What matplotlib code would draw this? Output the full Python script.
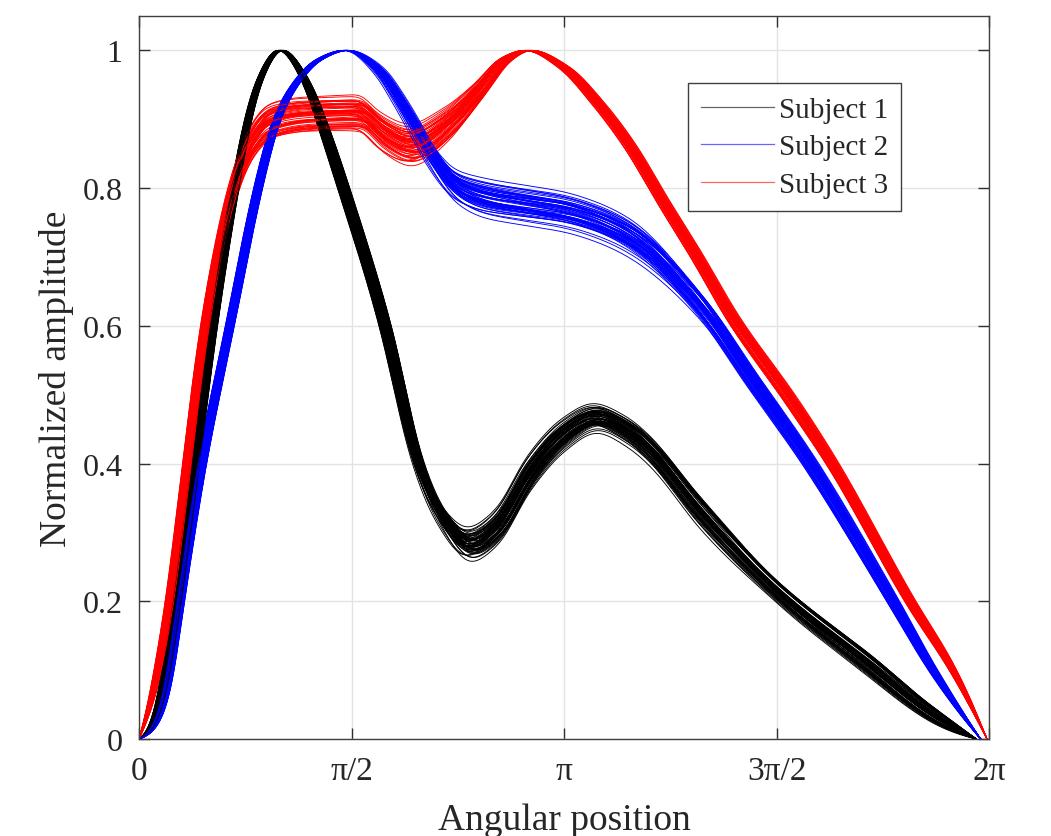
import numpy as np
import matplotlib
matplotlib.use("Agg")
import matplotlib.pyplot as plt

plt.rcParams['font.family'] = ['Liberation Serif', 'DejaVu Serif']

# ---------------- data (angle in units of pi) ----------------
subject_names = ["Subject 1", "Subject 2", "Subject 3"]
subject_colors = ["#000000", "#0000ff", "#ff0000"]

# Subject 1 (black): mean shape, amplitude half-spread, angular half-spread
s1_theta = [0.0, 0.02, 0.042, 0.089, 0.132, 0.174, 0.226, 0.257, 0.28, 0.332, 0.395, 0.426,
            0.48, 0.579, 0.657, 0.708, 0.779, 0.842, 0.92, 1.0, 1.075, 1.15, 1.2, 1.32, 1.5,
            1.713, 1.868, 1.97]
s1_amp = [0.0, 0.008, 0.034, 0.2, 0.4, 0.6, 0.8, 0.9, 0.95, 1.0, 0.95, 0.9,
          0.8, 0.6, 0.4, 0.327, 0.28, 0.305, 0.385, 0.44, 0.465, 0.445, 0.42, 0.33, 0.215,
          0.11, 0.035, 0.0]
s1_amp_spread = [0.0, 0.0, 0.0, 0.0, 0.0, 0.0, 0.0, 0.0, 0.0, 0.0, 0.0, 0.0,
                 0.0, 0.005, 0.012, 0.02, 0.03, 0.03, 0.03, 0.028, 0.025, 0.027, 0.028, 0.03, 0.02,
                 0.02, 0.013, 0.0]
s1_phase_spread = [0.0, 0.006, 0.01, 0.011, 0.011, 0.011, 0.01, 0.009, 0.008, 0.006, 0.01, 0.013,
                   0.015, 0.015, 0.013, 0.012, 0.012, 0.012, 0.012, 0.012, 0.012, 0.012, 0.012, 0.012, 0.012,
                   0.01, 0.008, 0.0]

# Subject 2 (blue)
s2_theta = [0.0, 0.03, 0.061, 0.096, 0.148, 0.214, 0.28, 0.324, 0.367, 0.42, 0.489, 0.567,
            0.606, 0.645, 0.685, 0.75, 0.81, 0.9, 1.0, 1.08, 1.162, 1.32, 1.438, 1.579,
            1.774, 1.868, 1.98]
s2_amp = [0.0, 0.012, 0.058, 0.2, 0.4, 0.6, 0.8, 0.9, 0.95, 0.985, 1.0, 0.97,
          0.935, 0.895, 0.85, 0.80, 0.785, 0.775, 0.765, 0.75, 0.725, 0.63, 0.525, 0.4,
          0.2, 0.1, 0.0]
s2_amp_spread = [0.0, 0.0, 0.0, 0.0, 0.0, 0.0, 0.0, 0.0, 0.0, 0.0, 0.0, 0.01,
                 0.015, 0.02, 0.025, 0.03, 0.035, 0.035, 0.035, 0.035, 0.035, 0.025, 0.02, 0.015,
                 0.01, 0.008, 0.0]
s2_phase_spread = [0.0, 0.007, 0.011, 0.011, 0.011, 0.011, 0.011, 0.01, 0.009, 0.008, 0.006, 0.013,
                   0.014, 0.014, 0.013, 0.01, 0.008, 0.008, 0.008, 0.008, 0.01, 0.013, 0.014, 0.014,
                   0.011, 0.007, 0.0]

# Subject 3 (red)
s3_theta = [0.0, 0.015, 0.03, 0.073, 0.113, 0.155, 0.222, 0.26, 0.31, 0.4, 0.52, 0.57,
            0.64, 0.724, 0.80, 0.86, 0.915, 1.0, 1.077, 1.155, 1.233, 1.313, 1.398, 1.53,
            1.631, 1.814, 1.915, 1.995]
s3_amp = [0.0, 0.025, 0.058, 0.2, 0.4, 0.6, 0.8, 0.86, 0.895, 0.905, 0.907, 0.88,
          0.86, 0.89, 0.94, 0.985, 1.0, 0.975, 0.925, 0.861, 0.78, 0.70, 0.61, 0.495,
          0.4, 0.2, 0.1, 0.0]
s3_amp_spread = [0.0, 0.0, 0.003, 0.005, 0.005, 0.005, 0.012, 0.022, 0.03, 0.03, 0.032, 0.035,
                 0.037, 0.03, 0.015, 0.005, 0.0, 0.005, 0.01, 0.012, 0.012, 0.012, 0.012, 0.012,
                 0.01, 0.008, 0.005, 0.0]
s3_phase_spread = [0.0, 0.005, 0.008, 0.011, 0.011, 0.011, 0.011, 0.011, 0.01, 0.01, 0.01, 0.012,
                   0.012, 0.016, 0.016, 0.015, 0.01, 0.013, 0.014, 0.014, 0.014, 0.014, 0.014, 0.014,
                   0.012, 0.01, 0.007, 0.0]

# per-trial deviation weights (relative position of each trace inside its band)
trial_phase_w = [0.12, -0.45, 0.78, -0.90, 0.33, -0.08, 0.56, -0.67, 0.95, -0.25,
                 0.41, -0.72, 0.04, 0.63, -0.38, 0.86, -0.55, 0.21, -0.97, 0.49,
                 -0.14, 0.71, -0.31, 0.02, -0.82, 0.37, 0.66, -0.60, 0.27, -0.19,
                 0.88, -0.42, 0.15, -0.77, 0.52, -0.05, 0.93, -0.34, 0.45, -0.88,
                 0.07, -0.51, 0.69, -0.16, 0.30, -0.93, 0.58, -0.28, 0.81, -0.63,
                 0.24, -0.02, 0.74, -0.47, 0.39, -0.70, 0.10, -0.36, 0.98, -0.11]
trial_amp_w_start = [-0.62, 0.35, 0.08, -0.91, 0.74, -0.22, 0.51, 0.97, -0.40, 0.18,
                     -0.75, 0.60, -0.05, 0.29, -0.53, 0.83, -0.99, 0.44, 0.12, -0.30,
                     0.68, -0.84, 0.25, -0.14, 0.90, -0.47, 0.03, 0.56, -0.69, 0.38,
                     -0.20, 0.79, -0.58, 0.15, -0.36, 0.64, -0.80, 0.47, -0.10, 0.22,
                     0.86, -0.26, 0.41, -0.66, 0.00, 0.71, -0.43, 0.19, -0.88, 0.53,
                     -0.12, 0.33, -0.57, 0.94, -0.33, 0.06, -0.73, 0.62, -0.18, 0.27]
trial_amp_w_end = [0.28, -0.70, 0.55, 0.10, -0.42, 0.88, -0.95, 0.33, 0.65, -0.18,
                   0.02, -0.58, 0.92, -0.27, 0.47, -0.83, 0.19, 0.73, -0.36, -0.04,
                   0.60, 0.37, -0.66, 0.85, -0.12, -0.90, 0.41, 0.14, -0.52, 0.70,
                   -0.31, 0.07, 0.95, -0.77, 0.23, -0.48, 0.58, -0.09, 0.80, -0.61,
                   -0.21, 0.49, -0.85, 0.16, 0.67, -0.39, 0.05, -0.64, 0.31, 0.89,
                   -0.55, 0.12, -0.29, 0.76, -0.07, 0.43, -0.97, 0.20, -0.45, 0.62]

x_ticks = [0.0, 0.5, 1.0, 1.5, 2.0]
x_tick_labels = ["0", "\u03c0/2", "\u03c0", "3\u03c0/2", "2\u03c0"]
y_ticks = [0.0, 0.2, 0.4, 0.6, 0.8, 1.0]
y_tick_labels = ["0", "0.2", "0.4", "0.6", "0.8", "1"]


# ---------------- smooth curve through the read points ----------------
def _edge(h0, h1, m0, m1):
    d = ((2 * h0 + h1) * m0 - h0 * m1) / (h0 + h1)
    if np.sign(d) != np.sign(m0):
        d = 0.0
    elif np.sign(m0) != np.sign(m1) and abs(d) > abs(3 * m0):
        d = 3 * m0
    return d


def pchip(x, y, xn):
    x = np.asarray(x, float)
    y = np.asarray(y, float)
    h = np.diff(x)
    d = np.diff(y) / h
    m = np.zeros_like(y)
    for i in range(1, len(y) - 1):
        if d[i - 1] * d[i] > 0:
            w1 = 2 * h[i] + h[i - 1]
            w2 = h[i] + 2 * h[i - 1]
            m[i] = (w1 + w2) / (w1 / d[i - 1] + w2 / d[i])
    m[0] = _edge(h[0], h[1], d[0], d[1])
    m[-1] = _edge(h[-1], h[-2], d[-1], d[-2])
    idx = np.clip(np.searchsorted(x, xn) - 1, 0, len(h) - 1)
    t = (xn - x[idx]) / h[idx]
    h00 = 2 * t**3 - 3 * t**2 + 1
    h10 = t**3 - 2 * t**2 + t
    h01 = -2 * t**3 + 3 * t**2
    h11 = t**3 - t**2
    return h00 * y[idx] + h10 * h[idx] * m[idx] + h01 * y[idx + 1] + h11 * h[idx] * m[idx + 1]


def smooth(y, step, sigma):
    # gaussian smoothing with odd extension at both ends (curves start and end at 0)
    n = int(4 * sigma / step) + 1
    k = np.exp(-0.5 * ((np.arange(-n, n + 1) * step) / sigma) ** 2)
    k /= k.sum()
    left = 2 * y[0] - y[1:n + 1][::-1]
    right = 2 * y[-1] - y[-n - 1:-1][::-1]
    ext = np.concatenate([left, y, right])
    return np.convolve(ext, k, mode="valid")


subjects = [
    (s1_theta, s1_amp, s1_amp_spread, s1_phase_spread),
    (s2_theta, s2_amp, s2_amp_spread, s2_phase_spread),
    (s3_theta, s3_amp, s3_amp_spread, s3_phase_spread),
]

fig = plt.figure(figsize=(10.51, 8.37), dpi=100)
ax = fig.add_axes([0.1323, 0.1159, 0.8088, 0.8638])

n_trials = len(trial_phase_w)
curves = []
for th, amp, asp, psp in subjects:
    grid = np.linspace(th[0], th[-1], 800)
    step = grid[1] - grid[0]
    mean = smooth(pchip(th, amp, grid), step, 0.012)
    a_s = np.clip(smooth(pchip(th, asp, grid), step, 0.02), 0, None)
    p_s = np.clip(smooth(pchip(th, psp, grid), step, 0.02), 0, None)
    curves.append((grid, mean, a_s, p_s))

for k in range(n_trials):
    for s, (grid, mean, a_s, p_s) in enumerate(curves):
        kk = (k + 17 * s) % n_trials
        t = grid / 2.0
        wa = trial_amp_w_start[kk] * (1 - t) + trial_amp_w_end[kk] * t
        xs = grid + trial_phase_w[kk] * p_s
        ys = np.clip(mean + wa * a_s, 0, None)
        ys = ys / ys.max()
        ax.plot(xs * np.pi, ys, color=subject_colors[s], lw=0.65,
                label=subject_names[s] if k == 0 else None, zorder=2)

ax.set_xlim(0, 2 * np.pi)
ax.set_ylim(0, 1.05)
ax.set_xticks([v * np.pi for v in x_ticks])
ax.set_xticklabels(x_tick_labels)
ax.set_yticks(y_ticks)
ax.set_yticklabels(y_tick_labels)
ax.grid(True, color="#e3e3e3", lw=1.0, zorder=0)
ax.set_axisbelow(True)
ax.tick_params(direction="in", length=8, width=1.0, color="#303030",
               top=True, right=True, labelsize=23, labelcolor="#262626")
ax.tick_params(axis="x", pad=12, labelsize=24)
ax.tick_params(axis="y", pad=12)
for sp in ax.spines.values():
    sp.set_color("#404040")
    sp.set_linewidth(1.0)

ax.set_xlabel("Angular position", fontsize=27, color="#262626", labelpad=12)
ax.set_ylabel("Normalized amplitude", fontsize=27, color="#262626", labelpad=6)

leg = ax.legend(loc="upper left", bbox_to_anchor=(0.646, 0.907), fontsize=21,
                frameon=True, fancybox=False, edgecolor="#404040", framealpha=1,
                handlelength=2.5, handletextpad=0.15, borderpad=0.45, labelspacing=0.38,
                borderaxespad=0)
leg.get_frame().set_linewidth(1.0)
for line in leg.get_lines():
    line.set_linewidth(0.9)
    line.set_alpha(0.6)
for txt in leg.get_texts():
    txt.set_color("#262626")

fig.savefig("out.png", dpi=100)
